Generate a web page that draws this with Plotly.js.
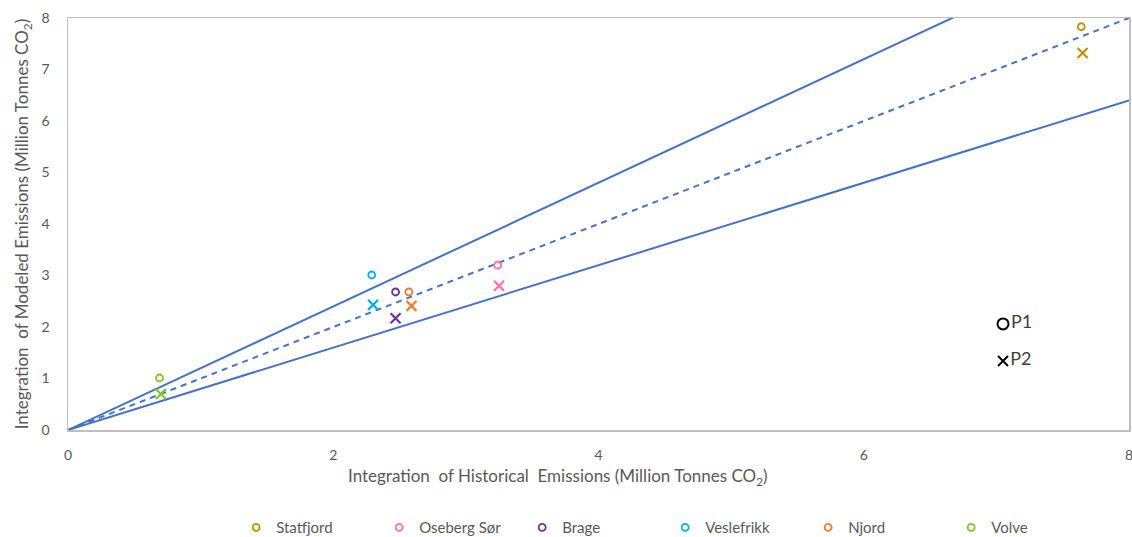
<!DOCTYPE html>
<html>
<head>
<meta charset="utf-8">
<script src="https://cdn.plot.ly/plotly-3.0.1.min.js"></script>
<style>html,body{margin:0;padding:0;background:#fff;}#chart{width:1132px;height:537px;}</style>
</head>
<body>
<div id="chart"></div>
<script>
const fields = ["Statfjord", "Oseberg Sør", "Brage", "Veslefrikk", "Njord", "Volve"];
const colors = ["#BF9000", "#FF6FA8", "#7030A0", "#00B0F0", "#ED7D31", "#7CC52A"];
const histP1 = [7.64, 3.24, 2.47, 2.29, 2.57, 0.69];
const modP1  = [7.83, 3.20, 2.68, 3.01, 2.68, 1.01];
const histP2 = [7.65, 3.25, 2.47, 2.30, 2.59, 0.70];
const modP2  = [7.32, 2.80, 2.17, 2.43, 2.41, 0.70];
const refX = [0, 8];
const upperY = [0, 9.6];
const parityY = [0, 8];
const lowerY = [0, 6.4];
const keyX = [7.05, 7.05];
const keyY = [2.06, 1.34];
const keyText = ["P1", "P2"];
const xTitle = "Integration  of Historical  Emissions (Million Tonnes CO<sub>2</sub>)";
const yTitle = "Integration  of Modeled Emissions (Million Tonnes CO<sub>2</sub>)";

const lineColor = "#4472C4";
const traces = [
  {x: refX, y: upperY, mode: "lines", line: {color: lineColor, width: 2}, showlegend: false, hoverinfo: "skip"},
  {x: refX, y: parityY, mode: "lines", line: {color: lineColor, width: 2, dash: "6px,5px"}, showlegend: false, hoverinfo: "skip"},
  {x: refX, y: lowerY, mode: "lines", line: {color: lineColor, width: 2}, showlegend: false, hoverinfo: "skip"}
];
fields.forEach((f, i) => {
  traces.push({x: [histP1[i]], y: [modP1[i]], mode: "markers", name: f, legendgroup: f,
    marker: {symbol: "circle-open", size: 7, color: colors[i], line: {width: 1.8, color: colors[i]}}});
  traces.push({x: [histP2[i]], y: [modP2[i]], mode: "markers", name: f, legendgroup: f, showlegend: false,
    marker: {symbol: "x-thin-open", size: 10, color: colors[i], line: {width: 2.2, color: colors[i]}}});
});
const keyFont = {size: 18, color: "#404040", family: "Lato, 'Open Sans', sans-serif"};
traces.push({x: [keyX[0]], y: [keyY[0]], mode: "markers+text", text: [keyText[0]], textposition: "middle right",
  textfont: keyFont, showlegend: false, cliponaxis: false,
  marker: {symbol: "circle-open", size: 11, color: "#000", line: {width: 2, color: "#000"}}});
traces.push({x: [keyX[1]], y: [keyY[1]], mode: "markers+text", text: [keyText[1]], textposition: "middle right",
  textfont: keyFont, showlegend: false, cliponaxis: false,
  marker: {symbol: "x-thin-open", size: 10, color: "#000", line: {width: 2, color: "#000"}}});

const font = {family: "Lato, 'Open Sans', sans-serif", size: 14, color: "#595959"};
const layout = {
  width: 1132, height: 537,
  margin: {l: 68, r: 3, t: 18, b: 107, autoexpand: false},
  paper_bgcolor: "#fff", plot_bgcolor: "#fff",
  font: font,
  showlegend: true,
  legend: {orientation: "h", x: 0.1585, xanchor: "left", y: -0.197, yanchor: "top",
    entrywidth: 98, entrywidthmode: "pixels", itemwidth: 30, font: {size: 15, color: "#595959"}},
  annotations: [{text: xTitle, xref: "paper", yref: "paper", x: 0.462, y: -0.114, xanchor: "center", yanchor: "middle",
    showarrow: false, font: {size: 17, color: "#595959"}}],
  xaxis: {range: [0, 8], tickvals: [0, 2, 4, 6, 8], showgrid: false, zeroline: false,
    showline: true, linecolor: "#BFBFBF", linewidth: 1.5, mirror: true, ticks: "", ticklabelstandoff: 12,
    ticklabeloverflow: "allow", automargin: false,
    tickfont: {size: 14, color: "#595959"}},
  yaxis: {range: [0, 8], dtick: 1, showgrid: false, zeroline: false,
    showline: true, linecolor: "#BFBFBF", linewidth: 1.5, mirror: true, ticks: "", ticklabelstandoff: 14,
    automargin: false,
    tickfont: {size: 14, color: "#595959"},
    title: {text: yTitle, font: {size: 17, color: "#595959"}, standoff: 8}}
};
Plotly.newPlot("chart", traces, layout, {displayModeBar: false, staticPlot: true});
</script>
</body>
</html>
